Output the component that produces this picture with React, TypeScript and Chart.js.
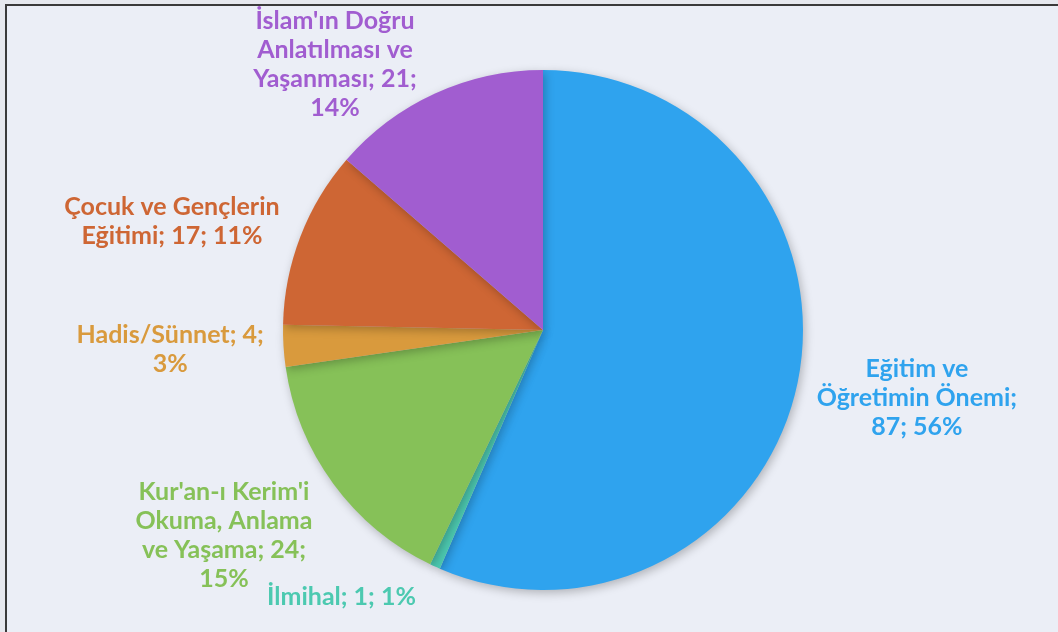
import React, { useEffect, useRef } from "react";
import { Chart, registerables } from "chart.js";

Chart.register(...registerables);

const categories = [
  "Eğitim ve Öğretimin Önemi",
  "İlmihal",
  "Kur'an-ı Kerim'i Okuma, Anlama ve Yaşama",
  "Hadis/Sünnet",
  "Çocuk ve Gençlerin Eğitimi",
  "İslam'ın Doğru Anlatılması ve Yaşanması",
];
const values = [87, 1, 24, 4, 17, 21];
const percents = [56, 1, 15, 3, 11, 14];
const colors = ["#2FA3EE", "#4CC9B0", "#86C158", "#D99A3D", "#CE6634", "#A15DD0"];

// words per line for each label (layout)
const lineBreaks = [
  [2, 2, 2],
  [3],
  [2, 2, 3, 1],
  [2, 1],
  [3, 3],
  [2, 2, 2, 1],
];
// label centre offsets, in units of pie radius
const labelOffsets = [
  [1.438, 0.262],
  [-0.775, 1.027],
  [-1.227, 0.792],
  [-1.434, 0.073],
  [-1.427, -0.419],
  [-0.8, -1.02],
];

const FONT = "bold 25px Lato";
const LINE_H = 29;

const shadowPlugin = {
  id: "pieShadow",
  beforeDatasetDraw(chart: any) {
    const ctx = chart.ctx;
    ctx.save();
    ctx.shadowColor = "rgba(0,0,0,0.25)";
    ctx.shadowBlur = 10;
    ctx.shadowOffsetX = 2;
    ctx.shadowOffsetY = 3;
  },
  afterDatasetDraw(chart: any) {
    chart.ctx.restore();
  },
};

const labelPlugin = {
  id: "outLabels",
  afterDraw(chart: any) {
    const meta = chart.getDatasetMeta(0);
    const arc0 = meta.data[0];
    if (!arc0) return;
    const cx = arc0.x;
    const cy = arc0.y;
    const r = arc0.outerRadius;
    const ctx = chart.ctx;
    ctx.save();
    ctx.font = FONT;
    ctx.textAlign = "center";
    ctx.textBaseline = "middle";
    categories.forEach((cat, i) => {
      const text = `${cat}; ${values[i]}; ${percents[i]}%`;
      const words = text.split(" ");
      const lines: string[] = [];
      let k = 0;
      for (const n of lineBreaks[i]) {
        lines.push(words.slice(k, k + n).join(" "));
        k += n;
      }
      const x = cx + labelOffsets[i][0] * r;
      const y = cy + labelOffsets[i][1] * r;
      const top = y - ((lines.length - 1) * LINE_H) / 2;
      ctx.fillStyle = colors[i];
      lines.forEach((ln, j) => ctx.fillText(ln, x, top + j * LINE_H));
    });
    ctx.restore();
  },
};

export default function App() {
  const ref = useRef<HTMLCanvasElement | null>(null);
  useEffect(() => {
    document.body.style.margin = "0";
    const chart = new Chart(ref.current!, {
      type: "pie",
      data: {
        labels: categories,
        datasets: [
          {
            data: values,
            backgroundColor: colors,
            borderWidth: 0,
          },
        ],
      },
      options: {
        animation: false,
        responsive: false,
        layout: { padding: { left: 283, right: 255, top: 70, bottom: 42 } },
        plugins: {
          legend: { display: false },
          tooltip: { enabled: false },
        },
      },
      plugins: [shadowPlugin, labelPlugin],
    });
    return () => chart.destroy();
  }, []);
  return (
    <div
      style={{
        position: "fixed",
        left: 0,
        top: 0,
        width: 1058,
        height: 632,
        background: "#E6E8EE",
        overflow: "hidden",
      }}
    >
      <div
        style={{
          position: "absolute",
          left: 5,
          top: 4,
          width: 1100,
          height: 700,
          background: "#EBEEF6",
          borderLeft: "2px solid #3A3A3A",
          borderTop: "2px solid #3A3A3A",
        }}
      />
      <canvas
        ref={ref}
        width={1058}
        height={632}
        style={{ position: "absolute", left: 0, top: 0, width: 1058, height: 632 }}
      />
    </div>
  );
}
